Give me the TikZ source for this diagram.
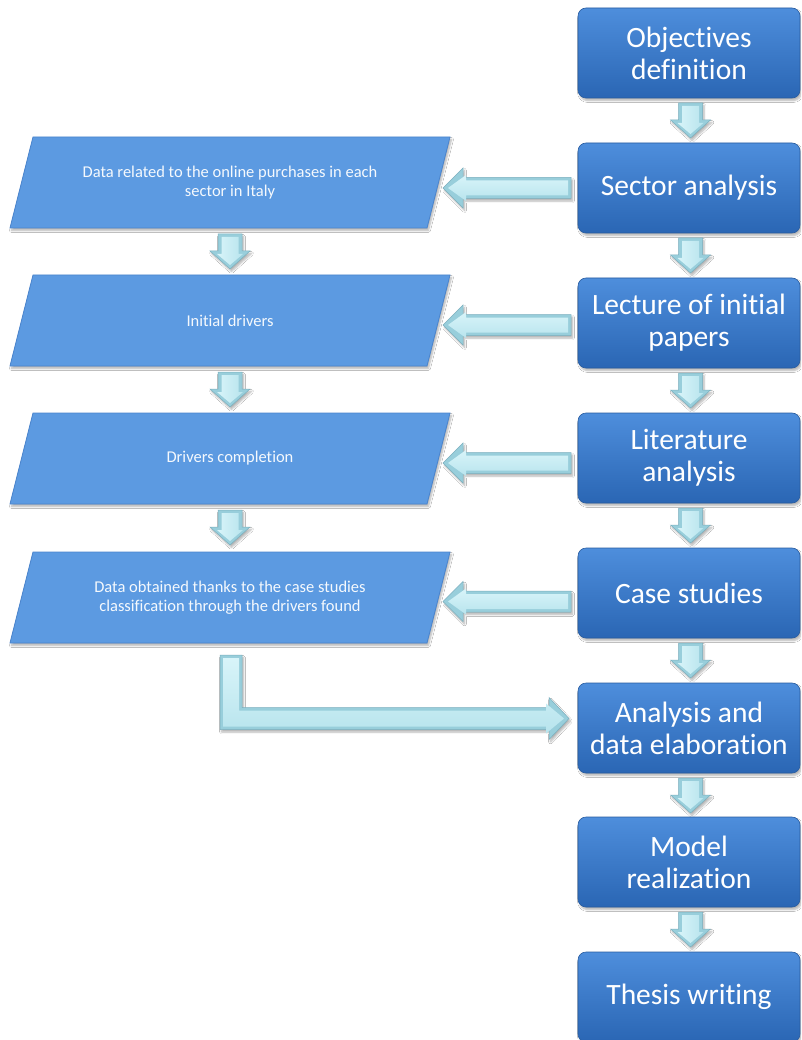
\documentclass[tikz,border=0pt]{standalone}
\usepackage{fontspec}
\setmainfont{Carlito}[Ligatures=NoCommon]
\usetikzlibrary{calc,shadows.blur}

\definecolor{boxtop}{RGB}{78,142,220}
\definecolor{boxbot}{RGB}{42,102,180}
\definecolor{boxline}{RGB}{40,92,160}
\definecolor{parfill}{RGB}{92,154,225}
\definecolor{parline}{RGB}{74,132,205}
\definecolor{arrlight}{RGB}{216,244,249}
\definecolor{arrdark}{RGB}{184,228,237}
\definecolor{arrbevel}{RGB}{152,206,219}
\definecolor{arrline}{RGB}{122,175,190}

\tikzset{
  softshadow/.style={blur shadow={shadow xshift=1.5pt, shadow yshift=-2.5pt,
      shadow opacity=30, shadow blur steps=6}},
  stepbox/.style={rectangle, rounded corners=8pt, minimum width=222pt,
      minimum height=90pt, top color=boxtop, bottom color=boxbot,
      draw=boxline, line width=0.6pt, text=white, align=center,
      font=\fontsize{29.5}{32}\selectfont, inner sep=2pt, outer sep=0pt,
      softshadow},
  datatext/.style={rectangle, minimum width=417pt, minimum height=91pt,
      text=white!94!parfill, align=center, font=\fontsize{16.5}{19.5}\selectfont,
      inner sep=0pt, outer sep=0pt},
  datashape/.style={fill=parfill, draw=parline, line width=0.8pt,
      line join=miter, softshadow},
  arrowouter/.style={fill=arrbevel, draw=arrline, line width=0.5pt,
      line join=miter, softshadow},
  vface/.style={left color=arrlight, right color=arrdark},
  hface/.style={top color=arrlight, bottom color=arrdark},
  pics/downarrow/.style={code={
      \path[arrowouter] (-12,0) -- (12,0) -- (12,17) -- (20,17) -- (0,35)
          -- (-20,17) -- (-12,17) -- cycle;
      \path[vface] (-8.5,3) -- (8.5,3) -- (8.5,20) -- (13,20) -- (0,31)
          -- (-13,20) -- (-8.5,20) -- cycle;
  }},
  pics/leftarrow/.style={code={
      \path[arrowouter] (0,-10.5) -- (-108,-10.5) -- (-108,-20) -- (-128,0)
          -- (-108,20) -- (-108,10.5) -- (0,10.5) -- cycle;
      \path[hface] (-3,-7.5) -- (-105,-7.5) -- (-105,-13) -- (-123,0)
          -- (-105,13) -- (-105,7.5) -- (-3,7.5) -- cycle;
  }},
  pics/slanted/.style={code={
      \path[datashape] (-197,-45.5) -- (220,-45.5) -- (197,45.5) -- (-220,45.5) -- cycle;
  }},
}

\begin{document}
\begin{tikzpicture}[x=1pt, y=-1pt]
  \useasboundingbox (0,0) rectangle (801,1040);
  \fill[white] (0,0) rectangle (801,1040);
  \clip (0,0) rectangle (801,1040);

  % process steps on the right
  \node[stepbox] (b1) at (689,53)  {Objectives\\definition};
  \node[stepbox] (b2) at (689,188) {Sector analysis};
  \node[stepbox] (b3) at (689,323) {Lecture of initial\\papers};
  \node[stepbox] (b4) at (689,458) {Literature\\analysis};
  \node[stepbox] (b5) at (689,593) {Case studies};
  \node[stepbox] (b6) at (689,728) {Analysis and\\data elaboration};
  \node[stepbox] (b7) at (689,862) {Model\\realization};
  \node[stepbox] (b8) at (689,997) {Thesis writing};

  % data produced on the left: slanted panel first, then its text
  \coordinate (c1) at (230,182.5);
  \coordinate (c2) at (230,320.5);
  \coordinate (c3) at (230,458.5);
  \coordinate (c4) at (230,597.5);
  \foreach \c in {c1,c2,c3,c4}
    \pic at (\c) {slanted};
  \node[datatext] (p1) at (c1) {Data related to the online purchases in each\\sector in Italy};
  \node[datatext] (p2) at (c2) {Initial drivers};
  \node[datatext] (p3) at (c3) {Drivers completion};
  \node[datatext] (p4) at (c4) {Data obtained thanks to the case studies\\classification through the drivers found};

  % vertical flow between the steps
  \foreach \a in {b1,b2,b3,b4,b5,b6,b7}
    \pic at ($(\a.south)+(1.5,5)$) {downarrow};
  \foreach \a in {p1,p2,p3}
    \pic at ($(\a.south)+(0,6)$) {downarrow};

  % from each step to its data
  \pic at ($(b2.west)+(-7,0)$)   {leftarrow};
  \pic at ($(b3.west)+(-7,2)$)   {leftarrow};
  \pic at ($(b4.west)+(-7,5)$)   {leftarrow};
  \pic at ($(b5.west)+(-7,8.5)$) {leftarrow};

  % collected data feeding the analysis
  \coordinate (lstart) at ($(p4.south)+(1,12)$);
  \coordinate (ltip) at ($(b6.west)+(-9,-9.5)$);
  \path[arrowouter] ($(lstart)+(-11,0)$) -- ($(lstart)+(11,0)$)
      |- ($(ltip)+(-20,-11)$) -- ($(ltip)+(-20,-21)$) -- (ltip)
      -- ($(ltip)+(-20,21)$) -- ($(ltip)+(-20,11)$)
      -| ($(lstart)+(-11,0)$) -- cycle;
  \path[hface] ($(lstart)+(-8,3)$) -- ($(lstart)+(8,3)$)
      |- ($(ltip)+(-23,-8)$) -- ($(ltip)+(-23,-15)$) -- ($(ltip)+(-5,0)$)
      -- ($(ltip)+(-23,15)$) -- ($(ltip)+(-23,8)$)
      -| ($(lstart)+(-8,3)$) -- cycle;
\end{tikzpicture}
\end{document}
